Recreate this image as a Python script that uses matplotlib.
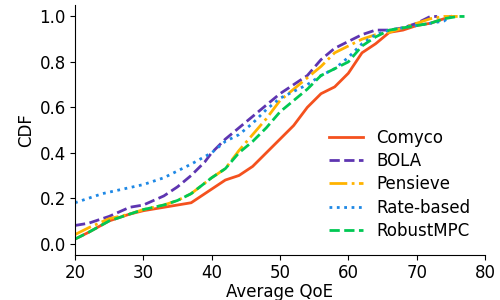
import matplotlib
matplotlib.use("Agg")
import matplotlib.pyplot as plt

# QoE values (x) and CDF values (y)
comyco_x = [20, 22, 25, 28, 30, 33, 35, 37, 40, 42, 44, 46, 48, 50, 52, 54, 56, 58, 60, 62, 64, 66, 68, 70, 72, 74, 75]
comyco_y = [0.02, 0.05, 0.10, 0.13, 0.145, 0.16, 0.17, 0.18, 0.24, 0.28, 0.30, 0.34, 0.40, 0.46, 0.52, 0.60, 0.66, 0.69, 0.75, 0.84, 0.88, 0.93, 0.94, 0.96, 0.97, 0.99, 1.0]

bola_x = [20, 22, 25, 28, 30, 33, 35, 37, 39, 40, 42, 44, 46, 48, 50, 52, 54, 56, 58, 60, 62, 64, 66, 68, 70, 72, 73]
bola_y = [0.08, 0.09, 0.12, 0.16, 0.17, 0.21, 0.25, 0.30, 0.36, 0.40, 0.46, 0.51, 0.56, 0.61, 0.66, 0.70, 0.74, 0.81, 0.86, 0.89, 0.92, 0.94, 0.94, 0.95, 0.97, 1.0, 1.0]

pensieve_x = [20, 22, 25, 28, 30, 33, 35, 37, 40, 42, 44, 46, 48, 50, 52, 54, 56, 58, 60, 62, 64, 66, 68, 70, 72, 74, 76]
pensieve_y = [0.04, 0.07, 0.11, 0.13, 0.15, 0.17, 0.19, 0.22, 0.29, 0.33, 0.41, 0.48, 0.55, 0.63, 0.68, 0.73, 0.78, 0.84, 0.87, 0.90, 0.92, 0.93, 0.95, 0.97, 0.99, 1.0, 1.0]

rate_x = [20, 22, 24, 27, 30, 33, 35, 37, 40, 42, 44, 46, 48, 50, 52, 54, 56, 58, 60, 62, 64, 66, 68, 70, 72, 74, 75]
rate_y = [0.18, 0.20, 0.22, 0.24, 0.26, 0.29, 0.32, 0.35, 0.40, 0.45, 0.48, 0.53, 0.59, 0.64, 0.67, 0.70, 0.74, 0.77, 0.82, 0.88, 0.92, 0.94, 0.95, 0.96, 0.97, 0.98, 1.0]

mpc_x = [20, 22, 25, 28, 30, 33, 35, 37, 40, 42, 44, 46, 48, 50, 52, 54, 56, 58, 60, 62, 64, 66, 68, 70, 72, 74, 76, 77]
mpc_y = [0.02, 0.05, 0.10, 0.13, 0.15, 0.17, 0.19, 0.22, 0.29, 0.33, 0.40, 0.45, 0.51, 0.58, 0.63, 0.68, 0.74, 0.77, 0.80, 0.87, 0.91, 0.94, 0.95, 0.96, 0.97, 0.99, 1.0, 1.0]

fig = plt.figure(figsize=(5, 3), dpi=100)
ax = fig.add_axes([0.15, 0.15, 0.82, 0.833])

ax.plot(comyco_x, comyco_y, color='#f4511e', lw=2, ls='-', label='Comyco')
ax.plot(bola_x, bola_y, color='#5e35b1', lw=2, ls='--', label='BOLA')
ax.plot(pensieve_x, pensieve_y, color='#ffb300', lw=2, ls='-.', label='Pensieve')
ax.plot(rate_x, rate_y, color='#1e88e5', lw=2, ls=':', label='Rate-based')
ax.plot(mpc_x, mpc_y, color='#00c853', lw=2, ls='--', label='RobustMPC')

ax.set_xlim(20, 80)
ax.set_ylim(-0.05, 1.05)
ax.set_xticks([20, 30, 40, 50, 60, 70, 80])
ax.set_yticks([0.0, 0.2, 0.4, 0.6, 0.8, 1.0])
ax.tick_params(labelsize=12, pad=3)
ax.set_xlabel('Average QoE', fontsize=12, labelpad=1)
ax.set_ylabel('CDF', fontsize=12, labelpad=3)
ax.spines['top'].set_visible(False)
ax.spines['right'].set_visible(False)
ax.legend(loc='lower right', frameon=False, fontsize=12, labelspacing=0.32,
          bbox_to_anchor=(1.0, 0.0))

fig.savefig('out.png', dpi=100)
